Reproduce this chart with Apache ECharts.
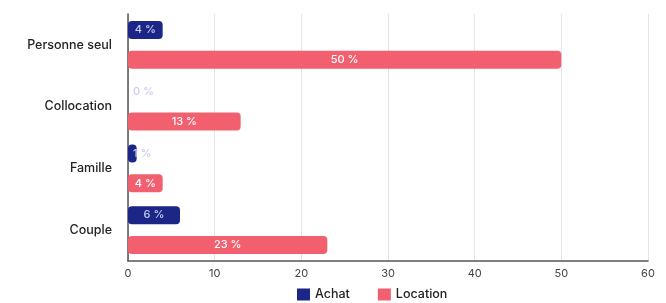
<!DOCTYPE html>
<html>
<head>
<meta charset="utf-8">
<script src="https://cdn.jsdelivr.net/npm/echarts@6/dist/echarts.min.js"></script>
<style>
  html, body { margin: 0; padding: 0; background: #fff; }
  #chart { width: 666px; height: 303px; }
</style>
</head>
<body>
<div id="chart"></div>
<script>
var categories = ['Personne seul', 'Collocation', 'Famille', 'Couple'];
var achat = [4, 0, 1, 6];
var location_ = [50, 13, 4, 23];
var seriesNames = ['Achat', 'Location'];
var xTicks = [0, 10, 20, 30, 40, 50, 60];

var FONT = 'Inter, "Noto Sans", sans-serif';

// petites valeurs : étiquette poussée à gauche, hors de la barre
function buildData(values) {
    return values.map(function(v) {
        var item = { value: v };
        if (v < 3) {
            item.label = { position: 'insideLeft', color: '#c8cbf2' };
        }
        return item;
    });
}

var chart = echarts.init(document.getElementById('chart'));
chart.setOption({
    animation: false,
    textStyle: { fontFamily: FONT },
    grid: { left: 128, right: 18, top: 14, bottom: 42, containLabel: false },
    legend: {
        data: seriesNames,
        top: 288,
        left: 297,
        padding: 0,
        itemWidth: 13,
        itemHeight: 12,
        itemGap: 28,
        icon: 'rect',
        textStyle: { fontSize: 12.5, color: '#222', fontFamily: FONT, fontWeight: 500 }
    },
    xAxis: {
        type: 'value',
        min: xTicks[0],
        max: xTicks[xTicks.length - 1],
        interval: 10,
        axisLine: { show: true, lineStyle: { color: '#555', width: 1.5 } },
        axisTick: { show: false },
        axisLabel: { color: '#444', fontSize: 11, margin: 7 },
        splitLine: { lineStyle: { color: '#e4e4e4' } }
    },
    yAxis: {
        type: 'category',
        data: categories,
        inverse: true,
        axisLine: { show: true, lineStyle: { color: '#555', width: 1.5 } },
        axisTick: { show: false },
        axisLabel: { color: '#222', fontSize: 12.5, fontWeight: 500, margin: 16 }
    },
    series: [
        {
            name: seriesNames[0],
            type: 'bar',
            data: buildData(achat),
            barWidth: 18,
            barGap: '66%',
            itemStyle: { color: '#1c2687', borderRadius: 4 },
            label: {
                show: true,
                position: 'inside',
                color: '#c8cbf2',
                fontSize: 11,
                fontWeight: 500,
                formatter: '{c} %'
            }
        },
        {
            name: seriesNames[1],
            type: 'bar',
            data: location_,
            barWidth: 18,
            itemStyle: { color: '#f2606f', borderRadius: 4 },
            label: {
                show: true,
                position: 'inside',
                color: '#fff',
                fontSize: 11,
                fontWeight: 500,
                formatter: '{c} %'
            }
        }
    ]
});
</script>
</body>
</html>
